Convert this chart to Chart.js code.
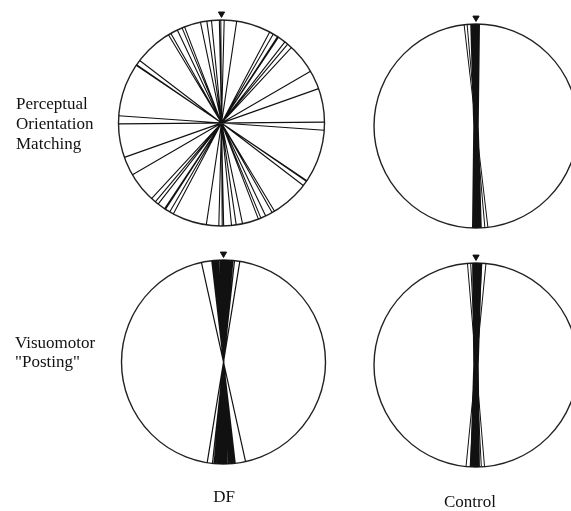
<!DOCTYPE html>
<html>
<head>
<meta charset="utf-8">
<script src="https://cdn.jsdelivr.net/npm/chart.js@4"></script>
<style>
  html, body { margin: 0; padding: 0; background: #fff; }
  #wrap { position: relative; width: 571px; height: 511px; }
  canvas { position: absolute; left: 0; top: 0; }
  .label {
    position: absolute;
    font-family: 'Liberation Serif', 'Times New Roman', serif;
    font-size: 17px;
    line-height: 20px;
    color: #111;
    white-space: nowrap;
  }
</style>
</head>
<body>
<div id="wrap">
  <canvas id="chart" width="571" height="511"></canvas>
  <div class="label" style="left:16px;top:94px">Perceptual<br>Orientation<br>Matching</div>
  <div class="label" style="left:15px;top:333px;line-height:19px">Visuomotor<br>"Posting"</div>
  <div class="label" style="left:194px;top:487px;width:60px;text-align:center">DF</div>
  <div class="label" style="left:430px;top:492px;width:80px;text-align:center">Control</div>
</div>
<script>
// orientation of each response, degrees from vertical (clockwise positive)
const dfMatching = [-86, -56, -55.5, -52.6, -31, -29.5, -25.4, -22.5, -21, -11.8, -8.2, -5.6,
  -1.2, -0.4, 1.5, 8.5, 27.9, 30.2, 33, 33.6, 38, 40, 42.8, 59.8, 70.5, 89.5]
const controlMatching = [-1.7, -1.1, -0.5, 0.1, 0.7]
const controlMatchingStray = [-6.7, -5]
const dfPosting = [-12.5, -6.6, -6.1, -5.4, -5, -4.3, -3.9, -3.2, -2.9, -2.1, -1.6, -1.2, -0.7,
  -0.2, 0.3, 0.6, 1.1, 1.7, 2, 2.6, 3.1, 3.5, 4.2, 4.6, 5.3, 6.2, 9.2]
const controlPosting = [-0.65, -0.05, 0.55, 1.15, 1.75]
const controlPostingStray = [-4.8, -3, 3.3, 5.6]
// target orientation (the marker above each circle)
const targetAngle = 0

const W = 571
const H = 511
const ink = '#111'

// pixel centre and radius of each circle
const panels = [
  { id: 1, cx: 221.5, cy: 123, r: 103 },
  { id: 2, cx: 476, cy: 126, r: 102 },
  { id: 3, cx: 223.5, cy: 362, r: 102 },
  { id: 4, cx: 476, cy: 365, r: 102 }
]

const scales = {}
panels.forEach((p) => {
  scales['x' + p.id] = { type: 'linear', display: false, min: -p.cx / p.r, max: (W - p.cx) / p.r }
  scales['y' + p.id] = { type: 'linear', display: false, min: -(H - p.cy) / p.r, max: p.cy / p.r }
})

function diameters(angles) {
  const pts = []
  angles.forEach((a) => {
    const t = a * Math.PI / 180
    pts.push({ x: Math.sin(t), y: Math.cos(t) })
    pts.push({ x: -Math.sin(t), y: -Math.cos(t) })
    pts.push({ x: NaN, y: NaN })
  })
  return pts
}

function axes(p) {
  return { xAxisID: 'x' + p.id, yAxisID: 'y' + p.id, clip: false }
}

function lineSet(p, angles, width) {
  return Object.assign(axes(p), {
    data: diameters(angles),
    showLine: true,
    spanGaps: false,
    pointRadius: 0,
    borderColor: ink,
    borderWidth: width,
    borderCapStyle: 'butt'
  })
}

function circleSet(p) {
  return Object.assign(axes(p), {
    data: [{ x: 0, y: 0 }],
    pointStyle: 'circle',
    pointRadius: p.r,
    pointBorderWidth: 1.4,
    pointBorderColor: '#222',
    pointBackgroundColor: 'rgba(0,0,0,0)'
  })
}

function markerSet(p) {
  const t = targetAngle * Math.PI / 180
  return Object.assign(axes(p), {
    data: [{ x: 1.06 * Math.sin(t), y: 1.06 * Math.cos(t) }],
    pointStyle: 'triangle',
    pointRotation: 180,
    pointRadius: 3.6,
    pointBorderWidth: 1,
    pointBorderColor: ink,
    pointBackgroundColor: ink
  })
}

const datasets = [
  lineSet(panels[0], dfMatching, 1.1),
  lineSet(panels[1], controlMatching, 5.5),
  lineSet(panels[1], controlMatchingStray, 1),
  lineSet(panels[2], dfPosting, 1.2),
  lineSet(panels[3], controlPosting, 5.5),
  lineSet(panels[3], controlPostingStray, 1)
]
panels.forEach((p) => {
  datasets.push(circleSet(p))
  datasets.push(markerSet(p))
})

new Chart(document.getElementById('chart'), {
  type: 'scatter',
  data: { datasets },
  options: {
    responsive: false,
    animation: false,
    devicePixelRatio: 1,
    events: [],
    layout: { padding: 0, autoPadding: false },
    scales,
    plugins: {
      legend: { display: false },
      tooltip: { enabled: false }
    }
  }
})
</script>
</body>
</html>
